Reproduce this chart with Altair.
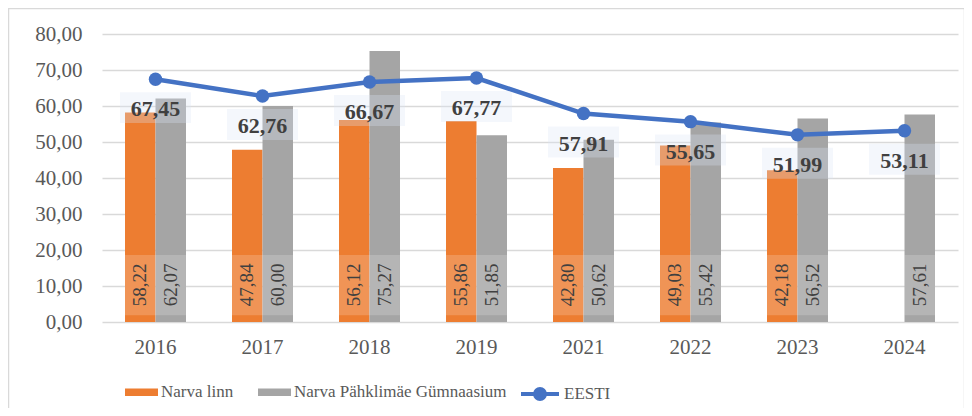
import altair as alt
import pandas as pd

years = ["2016", "2017", "2018", "2019", "2021", "2022", "2023", "2024"]
narva_linn = [58.22, 47.84, 56.12, 55.86, 42.80, 49.03, 42.18, None]
gymnaasium = [62.07, 60.00, 75.27, 51.85, 50.62, 55.42, 56.52, 57.61]
eesti = [67.45, 62.76, 66.67, 67.77, 57.91, 55.65, 51.99, 53.11]
series = ["Narva linn", "Narva Pähklimäe Gümnaasium"]
line_name = "EESTI"
y_ticks = [0, 10, 20, 30, 40, 50, 60, 70, 80]

rows = []
for i, yr in enumerate(years):
    for s, vals in zip(series, [narva_linn, gymnaasium]):
        if vals[i] is not None:
            rows.append({"year": yr, "series": s, "value": vals[i]})
bars_df = pd.DataFrame(rows)
line_df = pd.DataFrame({"year": years, "series": line_name, "value": eesti})

FONT = "Liberation Serif"
ORANGE, GRAY, BLUE = "#ED7D31", "#A5A5A5", "#4472C4"
fmt = "replace(format(datum.value, '.2f'), '.', ',')"

x_axis = alt.Axis(title=None, labelAngle=0, labelFont=FONT, labelFontSize=21,
                  labelColor="#595959", labelPadding=14, ticks=False,
                  domain=False, grid=False)
x_enc = alt.X("year:N", sort=years,
              scale=alt.Scale(paddingInner=0.43, paddingOuter=0.215),
              axis=x_axis)
y_scale = alt.Scale(domain=[0, 80], nice=False, zero=True)
y_axis = alt.Axis(title=None, values=y_ticks, tickCount=9, labelExpr=fmt, labelFont=FONT,
                  labelFontSize=21, labelColor="#595959", labelPadding=20,
                  labelOverlap=False, ticks=False, domain=False, grid=True,
                  gridColor="#D9D9D9", gridWidth=1.5)


def Y(field):
    return alt.Y(field, scale=y_scale, axis=y_axis)


xoff = alt.XOffset("series:N", sort=series,
                   scale=alt.Scale(domain=series, paddingInner=0, paddingOuter=0))

base_bars = alt.Chart(bars_df).transform_calculate(
    label="replace(format(datum.value, '.2f'), '.', ',')", lo="1.9", hi="18.6", mid="10.3")

bars = base_bars.mark_bar().encode(
    x=x_enc,
    xOffset=xoff,
    y=Y("value:Q"),
    color=alt.Color("series:N", scale=alt.Scale(domain=series, range=[ORANGE, GRAY]),
                    legend=alt.Legend(title=None, orient="none", legendX=23, legendY=341.5,
                                      direction="horizontal", columns=2,
                                      symbolType="M-1,-0.22H1V0.22H-1Z", symbolSize=1089,
                                      symbolStrokeWidth=0, symbolOpacity=1,
                                      labelFont=FONT, labelFontSize=17, labelLimit=0,
                                      labelColor="#595959", labelOffset=3,
                                      columnPadding=24, padding=0)),
)

bar_boxes = base_bars.mark_bar(color="white", opacity=0.18).encode(
    x=x_enc, xOffset=xoff, y=Y("lo:Q"), y2="hi:Q")

bar_labels = base_bars.mark_text(angle=270, font=FONT, fontSize=19, color="#404040",
                                 align="center", baseline="middle").encode(
    x=x_enc, xOffset=xoff, y=Y("mid:Q"), text="label:N")

base_line = alt.Chart(line_df).transform_calculate(
    label="replace(format(datum.value, '.2f'), '.', ',')",
    top="datum.value - 3.6", bot="datum.value - 12.2")

line_boxes = base_line.mark_bar(width=71, color="#DCE6F4", opacity=0.3).encode(
    x=x_enc, y=Y("top:Q"), y2="bot:Q")

line_labels = base_line.mark_text(dy=30, font=FONT, fontSize=22, fontWeight="bold",
                                  color="#404040", align="center", baseline="middle").encode(
    x=x_enc, y=Y("value:Q"), text="label:N")

line = base_line.mark_line(strokeWidth=4.5).encode(
    x=x_enc, y=Y("value:Q"),
    stroke=alt.Stroke("series:N", scale=alt.Scale(domain=[line_name], range=[BLUE]),
                      legend=alt.Legend(title=None, orient="none", legendX=417, legendY=339,
                                        symbolType="M-1,0H1M-0.26,0A0.26,0.26 0 1,1 0.26,0A0.26,0.26 0 1,1 -0.26,0",
                                        symbolSize=1444, symbolStrokeWidth=4,
                                        symbolStrokeColor=BLUE, symbolFillColor=BLUE,
                                        symbolOpacity=1,
                                        labelFont=FONT, labelFontSize=17, labelLimit=0,
                                        labelColor="#595959", labelOffset=3, padding=0)),
)

points = base_line.mark_circle(size=180, color=BLUE, opacity=1).encode(
    x=x_enc, y=Y("value:Q"))

border = alt.Chart(alt.Data(values=[{"a": 1}])).mark_rect(
    fill="transparent", stroke="#D9D9D9", strokeWidth=1.5).encode(
    x=alt.value(-93.5), x2=alt.value(862.5), y=alt.value(-25.5), y2=alt.value(377.5))

chart = alt.layer(bars, bar_boxes, bar_labels, line_boxes, line_labels, line, points, border).resolve_scale(
    color="independent").properties(
    width=856, height=288,
    padding={"left": 94, "top": 26, "right": 6, "bottom": 86},
    autosize=alt.AutoSizeParams(type="none"),
    background="white",
).configure(font=FONT).configure_view(stroke=None).configure_legend(
    labelFont=FONT, labelFontSize=17, labelColor="#595959", labelLimit=0)

chart.save("out.html", embed_options={"renderer": "svg", "actions": False})
